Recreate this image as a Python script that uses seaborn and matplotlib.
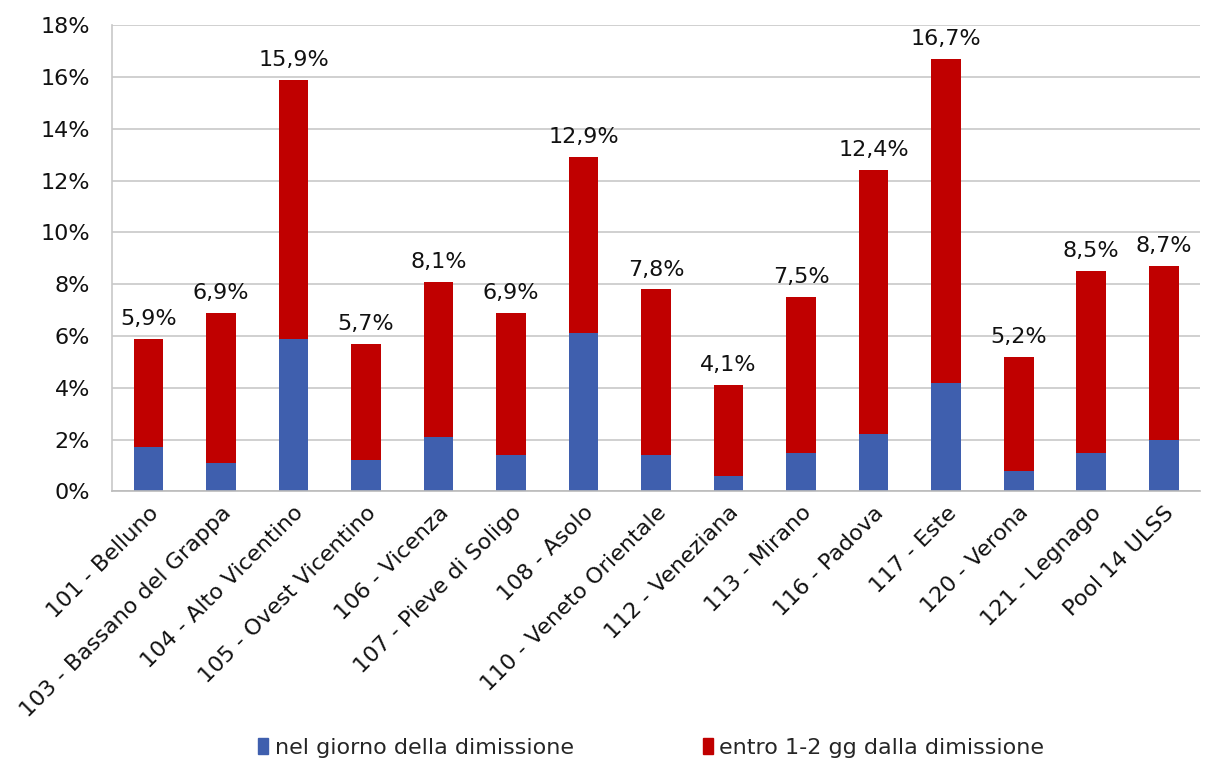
import numpy as np
import pandas as pd
import matplotlib
matplotlib.use("Agg")
import matplotlib.pyplot as plt
from matplotlib.patches import Patch
from matplotlib.ticker import FixedLocator, FuncFormatter
import seaborn as sns

# ── data ─────────────────────────────────────────────────────────────────────
categories = ["101 - Belluno", "103 - Bassano del Grappa", "104 - Alto Vicentino",
              "105 - Ovest Vicentino", "106 - Vicenza", "107 - Pieve di Soligo",
              "108 - Asolo", "110 - Veneto Orientale", "112 - Veneziana",
              "113 - Mirano", "116 - Padova", "117 - Este", "120 - Verona",
              "121 - Legnago", "Pool 14 ULSS"]
same_day = [1.7, 1.1, 5.9, 1.2, 2.1, 1.4, 6.1, 1.4, 0.6, 1.5, 2.2, 4.2, 0.8, 1.5, 2.0]
total    = [5.9, 6.9, 15.9, 5.7, 8.1, 6.9, 12.9, 7.8, 4.1, 7.5, 12.4, 16.7, 5.2, 8.5, 8.7]
legend_labels = ["nel giorno della dimissione", "entro 1-2 gg dalla dimissione"]

BLUE = "#3F5FAE"
RED = "#C00000"

df = pd.DataFrame({"cat": categories, "same": same_day, "total": total})

sns.set_style("white")
plt.rcParams["font.family"] = ["DejaVu Sans"]

fig, ax = plt.subplots(figsize=(12.06, 7.63), dpi=100)
fig.subplots_adjust(left=0.093, right=0.995, top=0.967, bottom=0.356)

# red segment = total bar, blue drawn on top
sns.barplot(data=df, x="cat", y="total", color=RED, width=0.41, ax=ax,
            saturation=1, edgecolor="none")
sns.barplot(data=df, x="cat", y="same", color=BLUE, width=0.41, ax=ax,
            saturation=1, edgecolor="none")

for i, t in enumerate(total):
    ax.text(i, t + 0.38, f"{t:.1f}%".replace(".", ","), ha="center", va="bottom",
            fontsize=16, color="#111")

ax.set_ylim(0, 18)
ax.set_xlim(-0.5, len(categories) - 0.5)
ax.yaxis.set_major_locator(FixedLocator(np.arange(0, 19, 2)))
ax.yaxis.set_major_formatter(FuncFormatter(lambda v, p: f"{v:.0f}%"))
ax.grid(axis="y", color="#c8c8c8", lw=1.2)
ax.set_axisbelow(True)
ax.set_xlabel(""); ax.set_ylabel("")

ax.set_xticks(range(len(categories)))
ax.set_xticklabels(categories, rotation=45, ha="right", rotation_mode="anchor",
                   fontsize=16, color="#111")
ax.tick_params(axis="x", length=0, pad=8)
ax.set_xticks(np.arange(-0.5, len(categories), 1), minor=True)
ax.tick_params(axis="x", which="minor", length=6, color="#bbbbbb", width=1.2)
ax.tick_params(axis="y", labelsize=16, labelcolor="#111", length=0, pad=16)

for s in ["top", "right"]:
    ax.spines[s].set_visible(False)
ax.spines["left"].set_color("#c8c8c8")
ax.spines["left"].set_linewidth(1.2)
ax.spines["bottom"].set_color("#bbbbbb")
ax.spines["bottom"].set_linewidth(1.2)

handles = [Patch(color=BLUE, label=legend_labels[0]),
           Patch(color=RED, label=legend_labels[1])]
fig.legend(handles=handles, loc="center", bbox_to_anchor=(0.54, 0.02), ncol=2,
           frameon=False, fontsize=16, handlelength=0.45, handleheight=0.7,
           handletextpad=0.3, columnspacing=5.8)

plt.savefig("out.png", dpi=100)
plt.close()
